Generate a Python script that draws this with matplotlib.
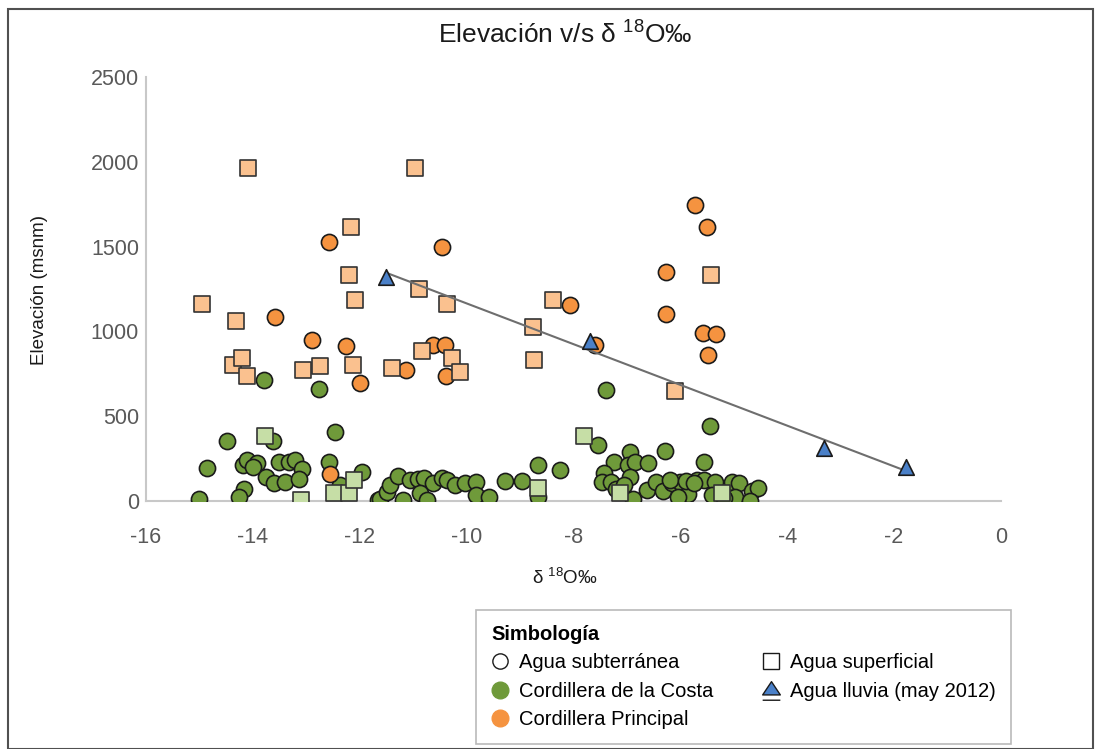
import numpy as np
import matplotlib
matplotlib.use("Agg")
import matplotlib.pyplot as plt
from matplotlib.lines import Line2D
from matplotlib.patches import Rectangle
from matplotlib.path import Path

plt.rcParams['font.family'] = ['Liberation Sans', 'DejaVu Sans']
plt.rcParams['mathtext.fontset'] = 'custom'
plt.rcParams['mathtext.rm'] = 'Liberation Sans'
plt.rcParams['mathtext.default'] = 'regular'

# ---------------- data ----------------
# Cordillera de la Costa - agua subterránea (green circles)
costa_sub_x = [-14.49, -14.85, -15.0, -13.63, -14.18, -14.11, -13.93, -13.99, -14.16, -14.26,
               -13.52, -13.33, -13.21, -13.08, -13.75, -13.61, -13.40, -13.13, -12.47, -12.58,
               -12.37, -11.96, -11.65, -13.79, -12.76,
               -11.62, -11.49, -11.44, -11.28, -11.20, -11.06, -10.91, -10.79, -10.62, -10.88,
               -10.74, -10.46, -10.37, -10.21, -10.03, -9.82, -9.82, -9.59, -9.28, -8.97,
               -8.67, -8.67, -8.26,
               -7.55, -5.44, -6.29, -5.56, -6.95, -7.25, -6.98, -6.85, -6.60, -7.43,
               -7.47, -7.30, -6.95, -6.88, -6.63, -6.45, -6.32, -6.16, -6.01, -5.85,
               -6.04, -5.69, -5.56, -5.35, -5.04, -4.91, -4.66, -4.54, -5.23, -4.98,
               -4.70, -5.41, -5.19, -7.20, -7.05, -6.20, -5.90, -5.75, -7.39]
costa_sub_y = [356, 193, 10, 356, 213, 242, 226, 203, 69, 22,
               232, 229, 242, 187, 140, 108, 114, 128, 406, 232,
               95, 173, 6, 711, 662,
               10, 55, 95, 148, 6, 124, 128, 134, 105, 45,
               6, 134, 124, 95, 105, 114, 35, 25, 120, 120,
               213, 25, 183,
               331, 443, 297, 232, 291, 232, 213, 232, 226, 164,
               114, 114, 144, 10, 65, 114, 61, 108, 114, 41,
               25, 124, 124, 114, 114, 105, 61, 75, 6, 22,
               2, 35, 16, 70, 95, 125, 120, 105, 652]

# Cordillera Principal - agua subterránea (orange circles)
princ_sub_x = [-12.58, -10.46, -13.58, -12.90, -12.25, -11.99, -11.14, -10.63, -10.40, -10.38,
               -12.55, -5.72, -5.51, -6.26, -8.06, -6.26, -5.57, -5.33, -7.60, -5.49]
princ_sub_y = [1529, 1499, 1083, 952, 916, 695, 774, 922, 922, 739,
               160, 1743, 1618, 1349, 1158, 1105, 991, 987, 922, 862]

# Cordillera Principal - agua superficial (light orange squares)
princ_sup_x = [-14.10, -10.96, -12.17, -12.21, -10.90, -12.09, -10.36, -14.95, -14.32, -14.38,
               -14.21, -14.11, -13.06, -12.74, -12.12, -11.39, -10.84, -10.28, -10.12, -8.75,
               -8.38, -8.74, -5.43, -6.10]
princ_sup_y = [1962, 1962, 1618, 1330, 1251, 1188, 1164, 1164, 1064, 804,
               843, 739, 770, 798, 800, 784, 882, 843, 758, 1024,
               1188, 833, 1330, 646]

# Cordillera de la Costa - agua superficial (light green squares)
costa_sup_x = [-13.78, -13.10, -12.48, -12.21, -12.10, -8.67, -7.81, -7.13, -5.23]
costa_sup_y = [386, 6, 49, 45, 124, 75, 384, 45, 45]

# Agua lluvia (may 2012)
lluvia_x = [-11.51, -7.70, -3.31, -1.78]
lluvia_y = [1322, 942, 311, 199]

x_ticks = [-16, -14, -12, -10, -8, -6, -4, -2, 0]
y_ticks = [0, 500, 1000, 1500, 2000, 2500]

# ---------------- style ----------------
c_green = '#6f9a3a'
c_orange = '#f59340'
c_lorange = '#fac18f'
c_lgreen = '#c6dea6'
c_blue = '#4a80c8'

W, H = 1098, 749
fig = plt.figure(figsize=(W / 100, H / 100), dpi=100)
ax = fig.add_axes([146 / W, 1 - 501 / H, 855 / W, 424 / H])

ms_c = 135
ms_s = 118
ew = 1.2
ax.scatter(costa_sub_x, costa_sub_y, s=ms_c, marker='o', facecolor=c_green,
           edgecolor='#1a1a1a', linewidth=ew, zorder=3)
ax.scatter(princ_sub_x, princ_sub_y, s=ms_c, marker='o', facecolor=c_orange,
           edgecolor='#1a1a1a', linewidth=ew, zorder=4)
ax.scatter(costa_sup_x, costa_sup_y, s=ms_s, marker='s', facecolor=c_lgreen,
           edgecolor='#333333', linewidth=ew, zorder=5)
ax.scatter(princ_sup_x, princ_sup_y, s=ms_s, marker='s', facecolor=c_lorange,
           edgecolor='#333333', linewidth=ew, zorder=5)

# linear trend line for rain samples
coef = np.polyfit(lluvia_x, lluvia_y, 1)
tx = np.array([min(lluvia_x), max(lluvia_x)])
ax.plot(tx, np.polyval(coef, tx), color='#6e6e6e', lw=1.5, zorder=6)
ax.scatter(lluvia_x, lluvia_y, s=125, marker='^', facecolor=c_blue,
           edgecolor='#1a1a1a', linewidth=ew, zorder=7)

ax.set_xlim(-16, 0)
ax.set_ylim(0, 2500)
ax.set_xticks(x_ticks)
ax.set_yticks(y_ticks)
ax.set_xticklabels([str(v) for v in x_ticks])
ax.set_yticklabels([str(v) for v in y_ticks])
ax.tick_params(length=0, labelsize=15.5, labelcolor='#595959')
ax.tick_params(axis='x', pad=19)
ax.tick_params(axis='y', pad=5)
for s in ['top', 'right']:
    ax.spines[s].set_visible(False)
for s in ['left', 'bottom']:
    ax.spines[s].set_color('#c8c8c8')
    ax.spines[s].set_linewidth(1.5)

fig.text(565 / W, 1 - 35 / H, 'Elevación v/s δ $^{18}$O‰', fontsize=19,
         ha='center', va='center', color='#1a1a1a')
fig.text(565 / W, 1 - 578 / H, 'δ $^{18}$O‰', fontsize=13.5,
         ha='center', va='center', color='#1a1a1a')
fig.text(40 / W, 1 - 290 / H, 'Elevación (msnm)', fontsize=13.5, rotation=90,
         ha='center', va='center', color='#1a1a1a')

# figure frame
fig.patches.append(Rectangle((8 / W, 0), 1085 / W, 1 - 9 / H, transform=fig.transFigure,
                             fill=False, edgecolor='#505050', lw=1.5))

# legend
tri_under = Path([(0, 1), (-1, -0.5), (1, -0.5), (0, 1), (-1, -1.1), (1, -1.1)],
                 [Path.MOVETO, Path.LINETO, Path.LINETO, Path.CLOSEPOLY, Path.MOVETO, Path.LINETO])
handles = [
    Line2D([], [], ls='none', marker='o', markersize=11, markerfacecolor='white',
           markeredgecolor='#1a1a1a', markeredgewidth=1.0),
    Line2D([], [], ls='none', marker='o', markersize=12, markerfacecolor=c_green,
           markeredgecolor=c_green),
    Line2D([], [], ls='none', marker='o', markersize=12, markerfacecolor=c_orange,
           markeredgecolor=c_orange),
    Line2D([], [], ls='none', marker='s', markersize=11, markerfacecolor='white',
           markeredgecolor='#1a1a1a', markeredgewidth=1.0),
    Line2D([], [], ls='none', marker=tri_under, markersize=14, markerfacecolor=c_blue,
           markeredgecolor='#1a1a1a', markeredgewidth=1.0),
]
labels = ['Agua subterránea', 'Cordillera de la Costa', 'Cordillera Principal',
          'Agua superficial', 'Agua lluvia (may 2012)']
leg = fig.legend(handles, labels, ncol=2, loc='upper left',
                 bbox_to_anchor=(476 / W, 1 - 610 / H, 535 / W, 0), mode='expand',
                 borderaxespad=0, fontsize=14.5, title='Simbología',
                 title_fontproperties={'weight': 'bold', 'size': 14.5},
                 alignment='left', frameon=True, fancybox=False, edgecolor='#a8a8a8',
                 handlelength=0.9, handletextpad=0.5, columnspacing=2.0,
                 labelspacing=0.46, borderpad=0.75)
leg.get_frame().set_linewidth(1.2)

fig.savefig('out.png', dpi=100)
